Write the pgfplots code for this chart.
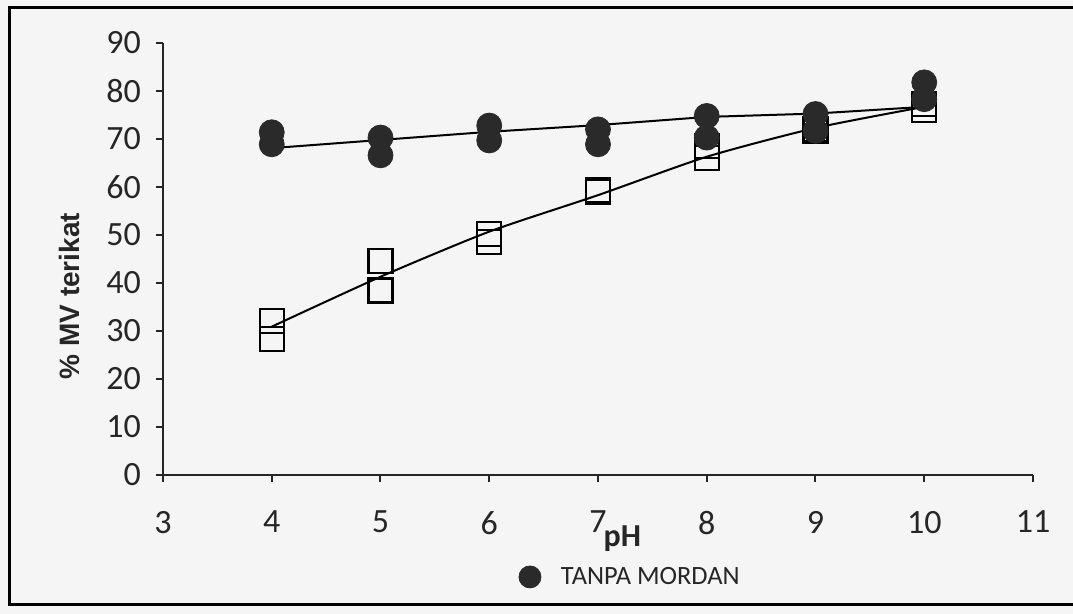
\documentclass[border=0pt]{standalone}
\usepackage{fontspec}
\setmainfont{Carlito}
\newfontfamily\arial{Liberation Sans}
\usepackage{pgfplots}
\usepackage{pgfplotstable}
\pgfplotsset{compat=1.18}
\definecolor{dot}{HTML}{2A2A2A}
\definecolor{paper}{HTML}{F5F5F5}

% replicate points, tanpa mordan (filled circles)
\pgfplotstableread{
ph val
4 71.4
4 68.9
5 70.3
5 66.6
6 72.8
6 69.7
7 72.0
7 68.9
8 74.8
8 70.3
9 75.2
9 71.7
10 81.8
10 78.3
}\tanpaPts
\pgfplotstableread{
ph val
4 68.1
5 69.8
6 71.5
7 72.9
8 74.6
9 75.3
10 76.7
}\tanpaLine
% replicate points, second series (open squares)
\pgfplotstableread{
ph val
4 32.1
4 28.3
5 44.6
5 38.4
6 50.2
6 48.6
7 59.4
7 58.9
8 68.5
8 66.0
9 72.1
9 71.7
10 77.3
10 76.1
}\sqPts
\pgfplotstableread{
ph val
4 30.9
5 41.3
6 50.7
7 58.3
8 66.3
9 72.3
10 76.7
}\sqLine

\begin{document}
\begin{tikzpicture}
\useasboundingbox (-81.5pt,-69.5pt) rectangle (455pt,237.5pt);
\fill[paper] (-81.5pt,-69.5pt) rectangle (455pt,237.5pt);
\draw[line width=1.5pt] (456pt,233.5pt) -- (-76.5pt,233.5pt) -- (-76.5pt,-65pt) -- (456pt,-65pt);
\begin{axis}[
    width=435pt, height=216pt, scale only axis,
    xmin=3, xmax=11, ymin=0, ymax=90,
    xtick={3,...,11}, ytick={0,10,...,90},
    axis x line*=bottom, axis y line*=left,
    axis line style={-, line width=1pt, black!85},
    tick align=outside, major tick length=3.5pt,
    tick style={line width=1pt, black!85},
    /pgf/number format/assume math mode=true,
    tick label style={font=\fontsize{17}{20}\selectfont, text=black!85},
    xticklabel style={yshift=-11pt},
    yticklabel style={xshift=-4pt},
    xlabel={pH},
    xlabel style={font=\fontsize{16}{19}\selectfont\bfseries, text=black!85,
        at={(axis description cs:0.528,0)}, anchor=base, yshift=-36pt},
    ylabel={\% MV terikat},
    ylabel style={font=\arial\fontsize{14}{16}\selectfont\bfseries, text=black!85,
        at={(axis description cs:-0.107,0.414)}, anchor=center},
    legend style={draw=none, fill=none, at={(axis description cs:0.405,-0.236)},
        anchor=west, inner sep=0pt, font=\fontsize{13.2}{15}\selectfont, text=black!85},
    legend image code/.code={%
        \path[draw=none, fill=none] (0pt,-5.5pt) rectangle (0.25cm+13.5pt,5.5pt);
        \draw[#1, mark size=5.5pt] plot coordinates {(0.25cm,0cm)};},
    clip=false,
]
\addplot[black, line width=1pt, smooth, tension=0.4, forget plot] table[x=ph, y=val] {\sqLine};
\addplot[only marks, mark=square, mark size=6pt, mark options={draw=black, line width=1.2pt, fill=none}, forget plot]
    table[x=ph, y=val] {\sqPts};
\addplot[black, line width=1pt, forget plot] table[x=ph, y=val] {\tanpaLine};
\addplot[only marks, mark=*, mark size=6.25pt, mark options={draw=dot, fill=dot}]
    table[x=ph, y=val] {\tanpaPts};
\addlegendentry{TANPA MORDAN}
\end{axis}
\end{tikzpicture}
\end{document}
